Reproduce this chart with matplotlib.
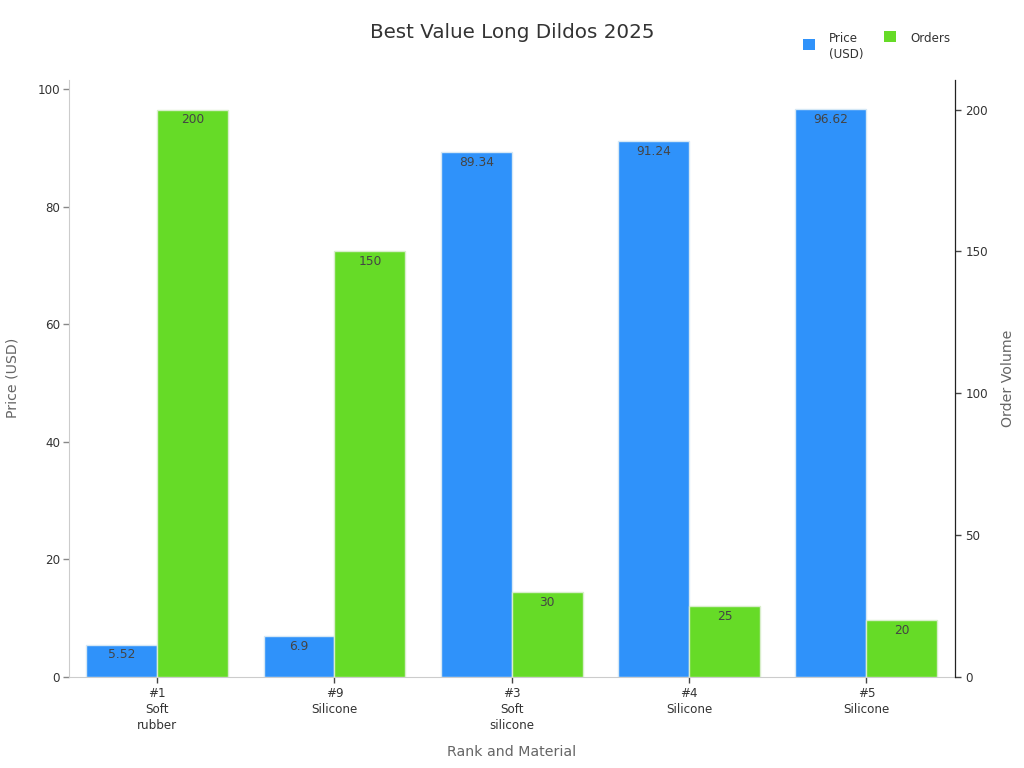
import matplotlib
matplotlib.use("Agg")
import matplotlib.pyplot as plt
import numpy as np

categories = ["#1\nSoft\nrubber", "#9\nSilicone", "#3\nSoft\nsilicone", "#4\nSilicone", "#5\nSilicone"]
price = [5.52, 6.9, 89.34, 91.24, 96.62]
price_labels = ["5.52", "6.9", "89.34", "91.24", "96.62"]
orders = [200, 150, 30, 25, 20]
order_labels = ["200", "150", "30", "25", "20"]

W, H = 1024, 768
fig = plt.figure(figsize=(W/100, H/100), dpi=100)
L, R, T, B = 68.5, 955, 80, 677
ax = fig.add_axes([L/W, 1-B/H, (R-L)/W, (B-T)/H])
ax2 = ax.twinx()
x = np.arange(len(categories))
bw = 0.4
blue, green = "#2f92fa", "#66db27"
b1 = ax.bar(x-bw/2, price, bw, color=blue, edgecolor="#d5e8f5", linewidth=1)
b2 = ax2.bar(x+bw/2, orders, bw, color=green, edgecolor="#d8eecb", linewidth=1)
ax.set_xlim(-0.5, 4.5)
ax.set_ylim(0, 101.6)
ax2.set_ylim(0, 210.4)
ax.set_yticks(range(0, 101, 20))
ax2.set_yticks(range(0, 201, 50))
ax.set_xticks(x)
ax.set_xticklabels(categories, fontsize=8.6, color="#333333", linespacing=1.3)
ax.tick_params(axis="y", labelsize=8.6, labelcolor="#333333", color="#888888", length=4, width=1, pad=2)
ax.tick_params(axis="x", color="#444444", length=4.5, width=1, pad=3)
ax2.tick_params(axis="y", labelsize=8.6, labelcolor="#333333", color="#444444", length=4.5, width=1, pad=3)
ax.spines["top"].set_visible(False)
ax2.spines["top"].set_visible(False)
ax.spines["right"].set_visible(False)
ax2.spines["left"].set_visible(False)
ax2.spines["bottom"].set_visible(False)
ax.spines["left"].set_color("#cccccc")
ax.spines["bottom"].set_color("#cccccc")
ax2.spines["right"].set_color("#222222")
ax2.spines["right"].set_linewidth(0.9)
for axis, bars, labels in [(ax, b1, price_labels), (ax2, b2, order_labels)]:
    for r, t in zip(bars, labels):
        axis.annotate(t, (r.get_x()+r.get_width()/2, r.get_height()), xytext=(0, -2.8),
                      textcoords="offset points", ha="center", va="top", fontsize=8.8, color="#444444")
fig.text(512/W, 1-33/H, "Best Value Long Dildos 2025", ha="center", va="center", fontsize=14.35, color="#333333")
fig.text(512/W, 1-751.5/H, "Rank and Material", ha="center", va="center", fontsize=10.2, color="#666666")
fig.text(13/W, 1-378/H, "Price (USD)", rotation=90, ha="center", va="center", fontsize=10.2, color="#666666")
fig.text(1008/W, 1-378/H, "Order Volume", rotation=90, ha="center", va="center", fontsize=10.2, color="#666666")

def legend_at(handle, label, px, py, nudge):
    leg = fig.legend([handle], [label], frameon=False, fontsize=8.6, loc="upper left",
                     bbox_to_anchor=(px/W, 1-py/H), handlelength=1.0, handleheight=1.0,
                     handletextpad=1.17, borderpad=0, borderaxespad=0, labelcolor="#333333")
    for p in leg.get_patches():
        p.set_edgecolor("none")
        p.set_y(p.get_y() + nudge)
    for t in leg.get_texts():
        t.set_linespacing(1.3)
    return leg

legend_at(b1, "Price\n(USD)", 803, 32, 2.0)
legend_at(b2, "Orders", 884, 32, 0.8)
fig.savefig("out.png", dpi=100)
